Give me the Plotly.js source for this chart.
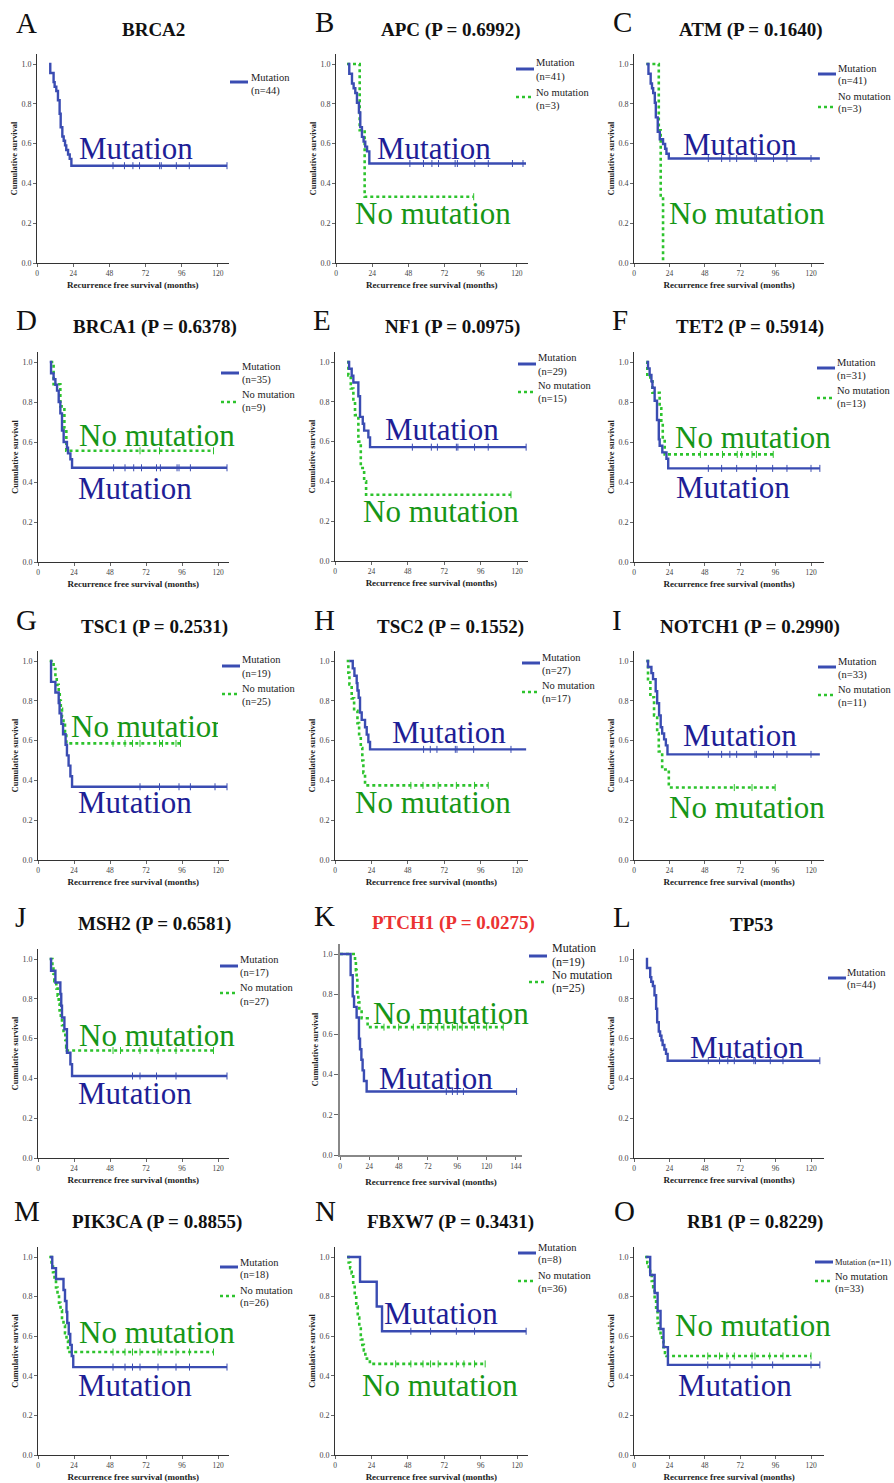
<!DOCTYPE html>
<html><head><meta charset="utf-8">
<script src="https://cdn.plot.ly/plotly-3.0.1.min.js"></script>
<style>html,body{margin:0;padding:0;background:#fff}#chart{width:894px;height:1483px}</style>
</head><body><div id="chart"></div>
<script>
// ---------------- DATA ----------------
const panelLetters = ['A','B','C','D','E','F','G','H','I','J','K','L','M','N','O'];
const genes = ['BRCA2','APC','ATM','BRCA1','NF1','TET2','TSC1','TSC2','NOTCH1','MSH2','PTCH1','TP53','PIK3CA','FBXW7','RB1'];
const pValues = [null,'0.6992','0.1640','0.6378','0.0975','0.5914','0.2531','0.1552','0.2990','0.6581','0.0275',null,'0.8855','0.3431','0.8229'];
const nMutation = [44,41,41,35,29,31,19,27,33,17,19,44,18,8,11];
const nNoMutation = [null,3,3,9,15,13,25,17,11,27,25,null,26,36,33];
const xTicks120 = [0,24,48,72,96,120];
const xTicks144 = [0,24,48,72,96,120,144];
const yTicks = [0,0.2,0.4,0.6,0.8,1.0];

// A BRCA2
const brca2_mut_t = [8,8.8,11,11.7,12.8,13.9,15,15.7,16.8,17.7,18.6,19.4,20.6,21.7,22.8,126];
const brca2_mut_s = [1,0.955,0.909,0.886,0.864,0.818,0.75,0.682,0.636,0.614,0.591,0.568,0.545,0.523,0.489,0.489];
const brca2_mut_cens = [50.4,58,63.6,68,81.3,82.4,92.4,101,126];
// B APC
const apc_mut_t = [7.7,8.8,10.6,11.7,12.8,13.9,15.2,16.1,17.2,18.3,19.4,20.6,22.1,126];
const apc_mut_s = [1,0.951,0.902,0.878,0.854,0.805,0.756,0.683,0.634,0.61,0.585,0.561,0.5,0.5];
const apc_mut_cens = [49,58,63.6,68,79,80.5,92,101,117,124];
const apc_no_t = [7.3,15.7,19,91.3];
const apc_no_s = [1,0.667,0.333,0.333];
const apc_no_cens = [91.3];
// C ATM
const atm_mut_t = [8.4,9.8,11.3,12.2,13,14.1,14.8,16.1,17.5,19.7,21.1,22,23.6,126];
const atm_mut_s = [1,0.951,0.902,0.878,0.854,0.805,0.732,0.659,0.622,0.598,0.574,0.549,0.525,0.525];
const atm_mut_cens = [50.4,59.4,65,69.6,82,83,94.6,103.7,120];
const atm_no_t = [8.4,16.8,18.1,19.7];
const atm_no_s = [1,0.667,0.333,0];
const atm_no_cens = [];
// D BRCA1
const brca1_mut_t = [7.8,8.7,10.4,11.6,12.7,13.8,14.9,16,17.1,19.3,20,21.6,22.7,126];
const brca1_mut_s = [1,0.943,0.914,0.886,0.857,0.8,0.743,0.657,0.6,0.571,0.543,0.514,0.471,0.471];
const brca1_mut_cens = [50.4,58,63.8,69,79,81.6,92.7,94,101.6,126];
const brca1_no_t = [8.2,10.4,14.9,17.6,18.9,117];
const brca1_no_s = [1,0.889,0.778,0.667,0.556,0.556];
const brca1_no_cens = [68,81,117];
// E NF1
const nf1_mut_t = [8.1,9.3,11,12.1,15.4,16.5,18.3,19.2,22,23.1,126];
const nf1_mut_s = [1,0.966,0.931,0.897,0.828,0.724,0.69,0.655,0.621,0.572,0.572];
const nf1_mut_cens = [51,63.5,67.5,80,81,92,101,126];
const nf1_no_t = [8,8.8,10.4,12.1,13.2,15.4,17,19.2,20.5,116];
const nf1_no_s = [1,0.933,0.867,0.8,0.733,0.6,0.467,0.4,0.333,0.333];
const nf1_no_cens = [116];
// F TET2
const tet2_mut_t = [8.4,9.5,10.6,11.8,12.5,14,15.6,16.8,17.4,19.2,22,23.2,126];
const tet2_mut_s = [1,0.968,0.935,0.903,0.871,0.806,0.71,0.613,0.581,0.548,0.516,0.468,0.468];
const tet2_mut_cens = [50.4,59.4,69.6,83,94,103.7,120,126];
const tet2_no_t = [8.4,9,12.5,17.4,18.5,19.5,20.8,94.4];
const tet2_no_s = [1,0.923,0.846,0.769,0.692,0.615,0.538,0.538];
const tet2_no_cens = [45,60,70,73,80,83,94.4];
// G TSC1
const tsc1_mut_t = [8.2,8.7,11.6,13.8,14.4,15.6,16.7,18.4,19.3,20.4,21.6,22.7,126];
const tsc1_mut_s = [1,0.895,0.842,0.789,0.737,0.684,0.632,0.579,0.526,0.474,0.421,0.368,0.368];
const tsc1_mut_cens = [68,81,94,101.6,118,126];
const tsc1_no_t = [7.8,10.4,11.6,12.5,13.8,14.5,15.2,16,17,18,18.9,95];
const tsc1_no_s = [1,0.96,0.92,0.88,0.84,0.8,0.76,0.72,0.68,0.64,0.586,0.586];
const tsc1_no_cens = [50,58,63,68,81,83,92,95];
// H TSC2
const tsc2_mut_t = [9.5,11.7,12.8,14.3,14.8,15.6,16.5,17.6,19.8,20.9,22,23.1,126];
const tsc2_mut_s = [1,0.963,0.926,0.889,0.852,0.815,0.741,0.704,0.667,0.63,0.593,0.556,0.556];
const tsc2_mut_cens = [58.4,62.8,67.2,79.3,80.4,91.4,116];
const tsc2_no_t = [7.7,8.8,9.5,11,12.6,14.8,15.9,17,18,18.7,19.8,101];
const tsc2_no_s = [1,0.941,0.882,0.812,0.75,0.688,0.625,0.563,0.5,0.438,0.375,0.375];
const tsc2_no_cens = [50,58,68,80,92,101];
// I NOTCH1
const notch1_mut_t = [8.4,9.5,11.8,12.9,14.7,15.7,17,18.1,19.1,20.4,21.6,22.7,126];
const notch1_mut_s = [1,0.97,0.939,0.909,0.848,0.788,0.727,0.667,0.636,0.606,0.576,0.531,0.531];
const notch1_mut_cens = [50.4,59.4,65,69.6,82,83,94.6,103.7,120];
const notch1_no_t = [8.4,9.5,11.1,13.6,15.7,16.8,19.1,23.6,95.7];
const notch1_no_s = [1,0.909,0.818,0.727,0.636,0.545,0.455,0.364,0.364];
const notch1_no_cens = [68,80,95.7];
// J MSH2
const msh2_mut_t = [7.8,8.7,11.6,14.9,15.5,16,17.6,19.3,21.6,22.7,126];
const msh2_mut_s = [1,0.941,0.882,0.824,0.765,0.706,0.647,0.529,0.471,0.412,0.412];
const msh2_mut_cens = [63,68,79,92,126];
const msh2_no_t = [7.8,9.6,10.3,10.9,12.2,13.1,13.8,14.4,15.2,16,17,18.2,18.8,19.3,117];
const msh2_no_s = [1,0.963,0.926,0.889,0.852,0.815,0.778,0.741,0.704,0.667,0.63,0.593,0.556,0.54,0.54];
const msh2_no_cens = [50,55,68,80,92,117];
// K PTCH1
const ptch1_mut_t = [0,8.7,10.4,11.5,13.6,15.5,16.4,17.5,18.5,19.6,21.8,144.5];
const ptch1_mut_s = [1,0.895,0.789,0.737,0.684,0.579,0.526,0.474,0.421,0.368,0.316,0.316];
const ptch1_mut_cens = [87,92,96,101,144.5];
const ptch1_no_t = [0,12.3,13,13.6,14.2,15,15.8,17.7,22.6,133.6];
const ptch1_no_s = [1,0.96,0.92,0.88,0.8,0.76,0.72,0.68,0.636,0.636];
const ptch1_no_cens = [36,48,60,72,80,85,92,96,100,110,120,133.6];
// L TP53
const tp53_mut_t = [8,8.8,11,11.7,12.8,13.9,15,15.7,16.8,17.7,18.6,19.4,20.6,21.7,22.8,126];
const tp53_mut_s = [1,0.955,0.909,0.886,0.864,0.818,0.75,0.682,0.636,0.614,0.591,0.568,0.545,0.523,0.489,0.489];
const tp53_mut_cens = [50.4,58,63.6,68,81.3,82.4,92.4,101,126];
// M PIK3CA
const pik3ca_mut_t = [8,9.5,12,17,18,19,19.5,20.5,21.5,22.5,23.5,126];
const pik3ca_mut_s = [1,0.944,0.889,0.833,0.778,0.722,0.667,0.611,0.556,0.5,0.444,0.444];
const pik3ca_mut_cens = [50,58,63,68,80,92,101,126];
const pik3ca_no_t = [7.5,9,10,11,12,13,14,15,16,17,18,19,20,117];
const pik3ca_no_s = [1,0.962,0.923,0.885,0.846,0.808,0.769,0.731,0.692,0.654,0.615,0.577,0.52,0.52];
const pik3ca_no_cens = [50,58,63,68,80,82,92,101,117];
// N FBXW7
const fbxw7_mut_t = [8,16.5,27.5,31,126];
const fbxw7_mut_s = [1,0.875,0.75,0.625,0.625];
const fbxw7_mut_cens = [50,63,80,92,126];
const fbxw7_no_t = [8,9,10,11,12,13,14,15,16,17,18,19,20,21,22,23,99];
const fbxw7_no_s = [1,0.972,0.944,0.917,0.861,0.806,0.75,0.694,0.639,0.583,0.556,0.528,0.5,0.486,0.472,0.46,0.46];
const fbxw7_no_cens = [40,50,58,63,68,80,85,92,99];
// O RB1
const rb1_mut_t = [8,11,14,16,18,20,23,126];
const rb1_mut_s = [1,0.909,0.818,0.727,0.636,0.545,0.455,0.455];
const rb1_mut_cens = [50,65,80,94,120,126];
const rb1_no_t = [7.5,9,10,11,12,13,14,15,16,17,18,19,20,21,22,120];
const rb1_no_s = [1,0.97,0.939,0.909,0.879,0.848,0.788,0.727,0.667,0.636,0.606,0.576,0.545,0.515,0.5,0.5];
const rb1_no_cens = [50,58,63,68,80,82,92,101,120];

// ---------------- ASSEMBLY ----------------
const curves = [
  [[brca2_mut_t,brca2_mut_s,brca2_mut_cens], null],
  [[apc_mut_t,apc_mut_s,apc_mut_cens],[apc_no_t,apc_no_s,apc_no_cens]],
  [[atm_mut_t,atm_mut_s,atm_mut_cens],[atm_no_t,atm_no_s,atm_no_cens]],
  [[brca1_mut_t,brca1_mut_s,brca1_mut_cens],[brca1_no_t,brca1_no_s,brca1_no_cens]],
  [[nf1_mut_t,nf1_mut_s,nf1_mut_cens],[nf1_no_t,nf1_no_s,nf1_no_cens]],
  [[tet2_mut_t,tet2_mut_s,tet2_mut_cens],[tet2_no_t,tet2_no_s,tet2_no_cens]],
  [[tsc1_mut_t,tsc1_mut_s,tsc1_mut_cens],[tsc1_no_t,tsc1_no_s,tsc1_no_cens]],
  [[tsc2_mut_t,tsc2_mut_s,tsc2_mut_cens],[tsc2_no_t,tsc2_no_s,tsc2_no_cens]],
  [[notch1_mut_t,notch1_mut_s,notch1_mut_cens],[notch1_no_t,notch1_no_s,notch1_no_cens]],
  [[msh2_mut_t,msh2_mut_s,msh2_mut_cens],[msh2_no_t,msh2_no_s,msh2_no_cens]],
  [[ptch1_mut_t,ptch1_mut_s,ptch1_mut_cens],[ptch1_no_t,ptch1_no_s,ptch1_no_cens]],
  [[tp53_mut_t,tp53_mut_s,tp53_mut_cens], null],
  [[pik3ca_mut_t,pik3ca_mut_s,pik3ca_mut_cens],[pik3ca_no_t,pik3ca_no_s,pik3ca_no_cens]],
  [[fbxw7_mut_t,fbxw7_mut_s,fbxw7_mut_cens],[fbxw7_no_t,fbxw7_no_s,fbxw7_no_cens]],
  [[rb1_mut_t,rb1_mut_s,rb1_mut_cens],[rb1_no_t,rb1_no_s,rb1_no_cens]]
];

// Layout geometry (pixels): x0 = pixel of 0 months, s = px per month, xmax, y0 = pixel of 0.0, y1 = pixel of 1.0
const geom = [
  {x0:37,s:1.508,xmax:127,y0:263,y1:64},
  {x0:336,s:1.508,xmax:127,y0:263,y1:64},
  {x0:634,s:1.475,xmax:129,y0:263,y1:64},
  {x0:38,s:1.5,xmax:127,y0:562,y1:362},
  {x0:335,s:1.517,xmax:127,y0:561,y1:362},
  {x0:634,s:1.475,xmax:129,y0:562,y1:362},
  {x0:38,s:1.5,xmax:127,y0:860,y1:661},
  {x0:335,s:1.517,xmax:127,y0:860,y1:661},
  {x0:634,s:1.475,xmax:129,y0:860,y1:661},
  {x0:38,s:1.5,xmax:127,y0:1158,y1:959},
  {x0:340,s:1.222,xmax:149,y0:1155,y1:954},
  {x0:634,s:1.475,xmax:129,y0:1158,y1:959},
  {x0:38,s:1.5,xmax:127,y0:1455,y1:1257},
  {x0:335,s:1.517,xmax:127,y0:1455,y1:1257},
  {x0:634,s:1.475,xmax:129,y0:1455,y1:1257}
];
const letterPos = [[26,23],[324,22],[622,22],[26,320],[322,320],[620,320],[26,620],[324,620],[617,620],[20,917],[324,916],[622,917],[27,1211],[325,1211],[624,1211]];
const titlePos = [[153,29],[451,30],[750,30],[155,327],[452,327],[750,327],[154,627],[450,627],[750,627],[154,924],[453,923],[751,924],[157,1222],[451,1222],[755,1222]];
// legend: lx line start, tx text start, ys text line centres, lineY [blue, green]
const legendPos = [
  {lx:230,tx:250,ys:[78,91],ly:[82]},
  {lx:516,tx:535,ys:[63,77,92,106],ly:[69,97]},
  {lx:818,tx:837,ys:[68,81,96,109],ly:[74,107]},
  {lx:221,tx:241,ys:[367,380,395,408],ly:[373,402]},
  {lx:518,tx:537,ys:[358,372,386,399],ly:[364,392]},
  {lx:817,tx:836,ys:[362,376,391,404],ly:[368,398]},
  {lx:222,tx:241,ys:[660,674,688,702],ly:[666,694]},
  {lx:522,tx:541,ys:[657,671,685,699],ly:[663,692]},
  {lx:818,tx:837,ys:[661,675,689,703],ly:[667,695]},
  {lx:220,tx:239,ys:[959,973,987,1002],ly:[966,993]},
  {lx:529,tx:551,ys:[948,962,975,988],ly:[956,982],fs:12},
  {lx:828,tx:846,ys:[972,985],ly:[978]},
  {lx:220,tx:239,ys:[1262,1275,1290,1303],ly:[1267,1296]},
  {lx:518,tx:537,ys:[1247,1260,1275,1289],ly:[1253,1281]},
  {lx:815,tx:834,ys:[1262,1276,1289],ly:[1262,1281],oneLine:true}
];
// big curve labels
const labelPos = [
  {m:[135.5,148]},
  {m:[434,148], n:[433,213]},
  {m:[740,144], n:[747,213]},
  {m:[135,488], n:[157,435]},
  {m:[442,430], n:[441,512]},
  {m:[733,487], n:[753,437]},
  {m:[135,802], n:[70,726], clip:147},
  {m:[449,732], n:[433,802]},
  {m:[740,735], n:[747,807]},
  {m:[135,1093], n:[157,1035]},
  {m:[436,1078], n:[451,1013]},
  {m:[747,1047]},
  {m:[135,1385], n:[157,1332]},
  {m:[441,1313], n:[440,1385]},
  {m:[735,1385], n:[753,1325]}
];

const W = 894, H = 1483;
const FONT = "'Liberation Serif','Times New Roman',Times,serif";
const BLUE = 'rgb(58,76,178)', GREEN = 'rgb(45,195,45)';
const TXTBLUE = 'rgb(30,30,150)', TXTGREEN = 'rgb(22,150,22)';
const px = x => x / W, py = y => 1 - y / H;

function stepAt(ts, ss, t) {
  let v = ss[0];
  for (let i = 0; i < ts.length; i++) if (ts[i] <= t) v = ss[i];
  return v;
}

const traces = [], annotations = [], shapes = [];
const layout = {
  width: W, height: H, margin: {l:0,r:0,t:0,b:0},
  paper_bgcolor: '#fff', plot_bgcolor: '#fff', showlegend: false,
  font: {family: FONT}
};

for (let i = 0; i < 15; i++) {
  const k = i === 0 ? '' : String(i + 1);
  const g = geom[i];
  const isK = (i === 10);
  const yTop = g.y1 - 0.05 * (g.y0 - g.y1);
  const axLine = isK ? '#888' : '#333';
  layout['xaxis' + k] = {
    domain: [px(g.x0), px(g.x0 + g.s * g.xmax)], range: [0, g.xmax], anchor: 'y' + k,
    tickmode: 'array', tickvals: isK ? xTicks144 : xTicks120,
    showline: true, linecolor: axLine, linewidth: isK ? 2 : 1,
    ticks: 'outside', ticklen: 3, tickcolor: '#666', tickwidth: 1,
    tickfont: {family: FONT, size: 7.5, color: '#444'},
    showgrid: false, zeroline: false, fixedrange: true,
    title: {text: '<b>Recurrence free survival (months)</b>', font: {family: FONT, size: 9, color: '#222'}, standoff: isK ? 9 : 4}
  };
  layout['yaxis' + k] = {
    domain: [py(g.y0), py(yTop)], range: [0, 1.05], anchor: 'x' + k,
    tickmode: 'array', tickvals: yTicks, tickformat: '.1f',
    showline: true, linecolor: axLine, linewidth: isK ? 2 : 1,
    ticks: 'outside', ticklen: isK ? 4 : 3, tickcolor: '#666', tickwidth: 1,
    tickfont: {family: FONT, size: 8, color: '#444'},
    showgrid: false, zeroline: false, fixedrange: true,
    title: {text: '<b>Cumulative survival</b>', font: {family: FONT, size: 8.5, color: '#222'}, standoff: 2}
  };

  const [mut, no] = curves[i];
  const groups = [];
  if (no) groups.push({d: no, color: GREEN, dash: 'dot', width: 2.6});
  groups.push({d: mut, color: BLUE, dash: 'solid', width: 2.4});
  groups.forEach(gr => {
    const [t, s, c] = gr.d;
    traces.push({x: t, y: s, xaxis: 'x' + k, yaxis: 'y' + k, type: 'scatter', mode: 'lines',
      line: {shape: 'hv', color: gr.color, width: gr.width, dash: gr.dash}, hoverinfo: 'skip'});
    if (c.length) traces.push({x: c, y: c.map(v => stepAt(t, s, v)), xaxis: 'x' + k, yaxis: 'y' + k,
      type: 'scatter', mode: 'markers', hoverinfo: 'skip',
      marker: {symbol: 'line-ns-open', size: 5, color: gr.color, line: {width: 1, color: gr.color}}});
  });

  // panel letter
  annotations.push({xref: 'paper', yref: 'paper', x: px(letterPos[i][0]), y: py(letterPos[i][1]),
    text: panelLetters[i], showarrow: false, xanchor: 'center', yanchor: 'middle',
    font: {family: FONT, size: 29, color: '#111'}});
  // title
  const ttl = pValues[i] ? genes[i] + ' (P = ' + pValues[i] + ')' : genes[i];
  annotations.push({xref: 'paper', yref: 'paper', x: px(titlePos[i][0]), y: py(titlePos[i][1]),
    text: '<b>' + ttl + '</b>', showarrow: false, xanchor: 'center', yanchor: 'middle',
    font: {family: FONT, size: 19, color: isK ? 'rgb(235,50,50)' : '#111'}});

  // legend
  const L = legendPos[i];
  const fs = L.fs || 10.5;
  let lines, sizes;
  if (!no) { lines = ['Mutation', '(n=' + nMutation[i] + ')']; sizes = [fs, fs]; }
  else if (L.oneLine) { lines = ['Mutation (n=' + nMutation[i] + ')', 'No mutation', '(n=' + nNoMutation[i] + ')']; sizes = [8.5, fs, fs]; }
  else { lines = ['Mutation', '(n=' + nMutation[i] + ')', 'No mutation', '(n=' + nNoMutation[i] + ')']; sizes = [fs, fs, fs, fs]; }
  lines.forEach((txt, j) => annotations.push({xref: 'paper', yref: 'paper', x: px(L.tx), y: py(L.ys[j]),
    text: txt, showarrow: false, xanchor: 'left', yanchor: 'middle', borderpad: 0,
    font: {family: FONT, size: sizes[j], color: '#222'}}));
  shapes.push({type: 'line', xref: 'paper', yref: 'paper', x0: px(L.lx), x1: px(L.lx + 18), y0: py(L.ly[0]), y1: py(L.ly[0]),
    line: {color: BLUE, width: 3}});
  if (no) shapes.push({type: 'line', xref: 'paper', yref: 'paper', x0: px(L.lx), x1: px(L.lx + 18), y0: py(L.ly[1]), y1: py(L.ly[1]),
    line: {color: GREEN, width: 2.6, dash: 'dot'}});

  // big curve labels
  const P = labelPos[i];
  annotations.push({xref: 'paper', yref: 'paper', x: px(P.m[0]), y: py(P.m[1]), text: 'Mutation', showarrow: false,
    xanchor: 'center', yanchor: 'middle', font: {family: FONT, size: 31, color: TXTBLUE}});
  if (P.n) {
    const a = {xref: 'paper', yref: 'paper', x: px(P.n[0]), y: py(P.n[1]), text: 'No mutation', showarrow: false,
      xanchor: 'center', yanchor: 'middle', font: {family: FONT, size: 31, color: TXTGREEN}};
    if (P.clip) { a.width = P.clip; a.xanchor = 'left'; a.align = 'left'; a.borderpad = 0; }
    annotations.push(a);
  }
}
layout.annotations = annotations;
layout.shapes = shapes;
Plotly.newPlot('chart', traces, layout, {staticPlot: true, displayModeBar: false});
</script>
</body></html>
